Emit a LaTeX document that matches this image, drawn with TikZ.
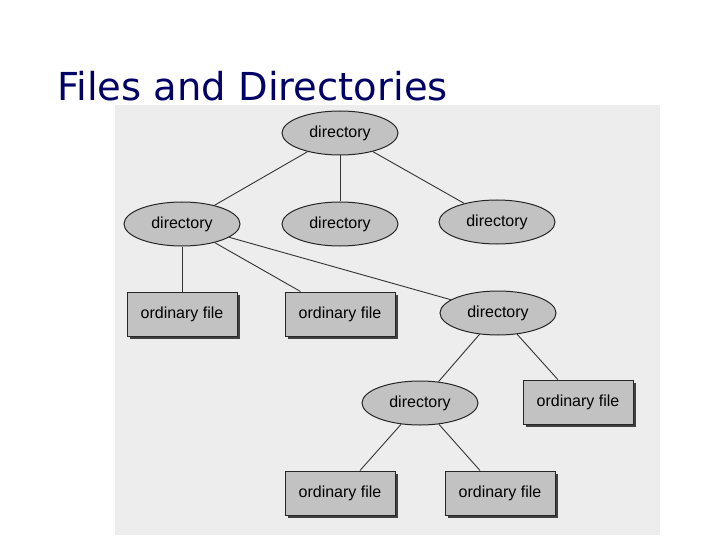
\documentclass[tikz,border=0pt]{standalone}
\usepackage{fontspec}
\setmainfont{Liberation Sans}
\newfontfamily\titlefont{DejaVu Sans}
\usetikzlibrary{shapes.geometric,shadows}
\begin{document}
\begin{tikzpicture}[x=1pt,y=-1pt,
  dirnode/.style={ellipse,draw=black!85,line width=1pt,fill=black!24,minimum width=116pt,minimum height=44pt,inner sep=0pt,font=\fontsize{16}{18}\selectfont},
  filenode/.style={rectangle,draw=black!85,line width=1pt,fill=black!24,minimum width=110pt,minimum height=44pt,inner sep=0pt,font=\fontsize{16}{18}\selectfont,drop shadow={shadow xshift=2.5pt,shadow yshift=-2.5pt,fill=black!75,opacity=1}},
  link/.style={draw=black!80,line width=0.9pt}]
\useasboundingbox (0,0) rectangle (720,540);
\fill[white] (0,0) rectangle (720,540);
\fill[white!93!black] (115,105) rectangle (660,535);
\node[anchor=base west,text=blue!40!black,inner sep=0pt,font=\titlefont\fontsize{38.5}{44}\selectfont] (title) at (57,101) {Files and Directories};
\node[dirnode] (root) at (340,133) {directory};
\node[dirnode] (dl) at (182,224) {directory};
\node[dirnode] (dm) at (340,224) {directory};
\node[dirnode] (dr) at (497,222) {directory};
\node[dirnode] (dmid) at (498,313) {directory};
\node[dirnode] (dlow) at (420,403) {directory};
\node[filenode] (f1) at (182,314) {ordinary file};
\node[filenode] (f2) at (340,314) {ordinary file};
\node[filenode] (f3) at (578,402) {ordinary file};
\node[filenode] (f4) at (340,493) {ordinary file};
\node[filenode] (f5) at (500,493) {ordinary file};
\draw[link] (root) -- (dl);
\draw[link] (root) -- (dm);
\draw[link] (root) -- (dr);
\draw[link] (dl) -- (f1);
\draw[link] (dl) -- (f2);
\draw[link] (dl) -- (dmid);
\draw[link] (dmid) -- (dlow);
\draw[link] (dmid) -- (f3);
\draw[link] (dlow) -- (f4);
\draw[link] (dlow) -- (f5);
\end{tikzpicture}
\end{document}
